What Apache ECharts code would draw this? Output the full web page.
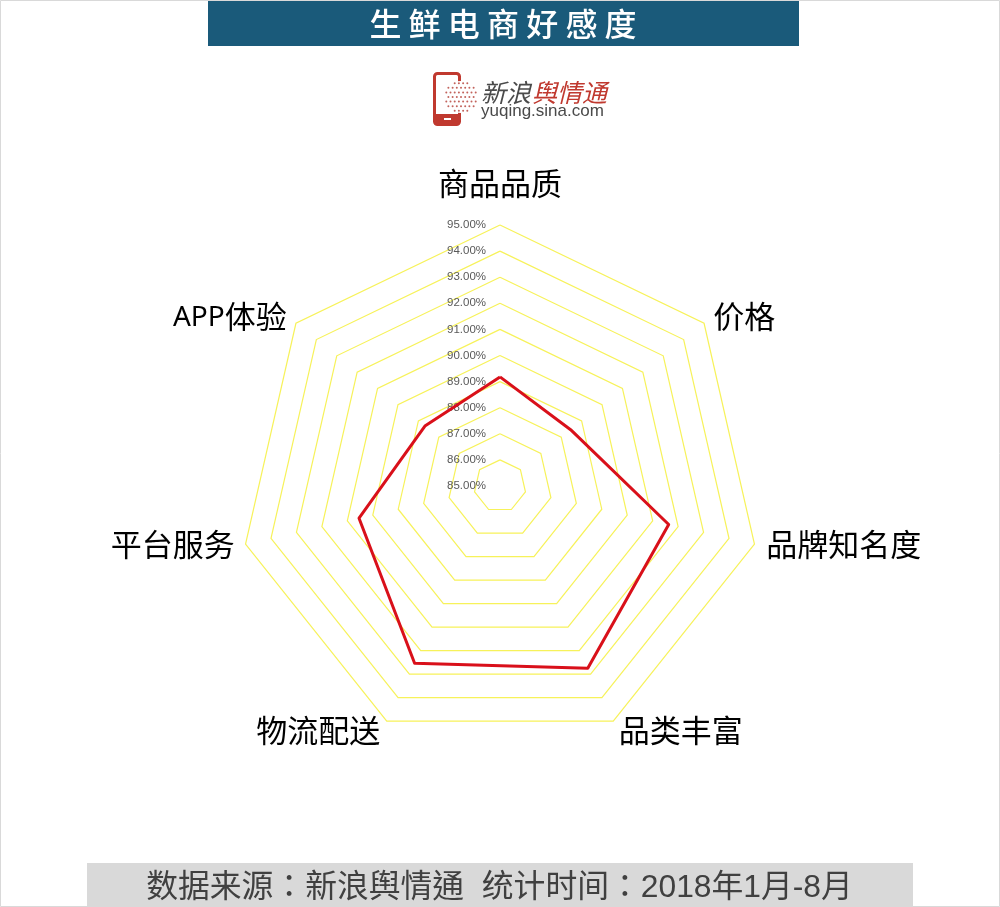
<!DOCTYPE html>
<html><head><meta charset="utf-8">
<style>html,body{margin:0;padding:0;background:#fff}#c{width:1000px;height:907px}</style>
<script src="https://cdn.jsdelivr.net/npm/echarts@6/dist/echarts.min.js"></script>
</head><body><div id="c"></div>
<script>
// Listed in the radar's drawing order (counter-clockwise from the top)
const categories = ['商品品质','APP体验','平台服务','物流配送','品类丰富','品牌知名度','价格'];
const values = [89.18,88.68,90.54,92.54,92.75,91.63,88.46];
const tickLabels = ['85.00%','86.00%','87.00%','88.00%','89.00%','90.00%','91.00%','92.00%','93.00%','94.00%','95.00%'];
const axisMin = 85, axisMax = 95;
const titleText = '生 鲜 电 商 好 感 度';
const sourceText = '数据来源：新浪舆情通  统计时间：2018年1月-8月';
const logoCn1 = '新浪', logoCn2 = '舆情通', logoEn = 'yuqing.sina.com';

const CJK = '"Noto Sans CJK SC","Noto Sans",sans-serif';
const CJKTC = '"Liberation Sans","Noto Sans CJK TC",sans-serif';
const graphic = [
  {type:'rect',shape:{x:0.5,y:0.5,width:999,height:906},style:{fill:'none',stroke:'#d9d9d9',lineWidth:1},silent:true},
  {type:'rect',shape:{x:208,y:1,width:591,height:45},style:{fill:'#1a5a7a'}},
  {type:'text',x:503,y:24,style:{text:titleText,fill:'#fff',font:'500 32px '+CJK,textAlign:'center',textVerticalAlign:'middle'}},
  {type:'rect',shape:{x:87,y:863,width:826,height:43},style:{fill:'#d9d9d9'}},
  {type:'text',x:499.5,y:888,style:{text:sourceText,fill:'#404040',font:'31.8px '+CJKTC,textAlign:'center',textVerticalAlign:'middle'}},
  {type:'rect',shape:{x:434.5,y:73.5,width:25,height:51,r:3},style:{fill:'#fff',stroke:'#c0392f',lineWidth:3}},
  {type:'rect',shape:{x:434,y:114,width:26,height:11,r:[0,0,3,3]},style:{fill:'#c0392f'}},
  {type:'rect',shape:{x:444,y:118,width:7,height:2},style:{fill:'#fff'}},
  {type:'circle',shape:{cx:461,cy:97,r:16},style:{fill:'#fff'},silent:true},
  {type:'text',x:481,y:92,style:{text:logoCn1,fill:'#4a4a4a',font:'italic 25px '+CJK,textVerticalAlign:'middle'}},
  {type:'text',x:532,y:92,style:{text:logoCn2,fill:'#c0392f',font:'italic 25px '+CJK,textVerticalAlign:'middle'}},
  {type:'text',x:481,y:111,style:{text:logoEn,fill:'#4a4a4a',font:'17px "Liberation Sans",sans-serif',textVerticalAlign:'middle'}}
];
// logo dot globe
for(let r=-3;r<=3;r++){
  for(let c=-4;c<=3;c++){
    const dx=c*4.2+(r%2?2.1:0), dy=r*4.6;
    if(dx*dx+dy*dy<=16*16) graphic.push({type:'circle',shape:{cx:461+dx,cy:97+dy,r:1},style:{fill:'#c2635c'},silent:true});
  }
}

// Label nudges: [top,right,bottom,left] per axis name, same order as categories
const namePads = [[0,0,18,0],[0,3,4,0],[0,3,4,0],[4,3,0,0],[4,0,0,2],[0,0,4,4],[0,0,4,3]];
const rich = {};
namePads.forEach(function(p,i){
  rich['n'+i] = {fontSize:31,fontFamily:CJK,color:'#000',padding:p};
});
rich.a1 = {fontSize:28,fontFamily:'"Noto Sans",sans-serif',color:'#000',padding:[0,0,0,0]};

const chart = echarts.init(document.getElementById('c'),null,{renderer:'canvas'});
chart.setOption({
  animation:false,
  backgroundColor:'#fff',
  graphic:graphic,
  radar:{
    center:[500,486],radius:261,startAngle:90,splitNumber:10,shape:'polygon',
    nameGap:8,
    axisName:{color:'#000',fontSize:31,fontFamily:CJK,
      formatter:function(n){
        const i=categories.indexOf(n);
        if(n.indexOf('APP')===0) return '{a1|APP}{n1|'+n.slice(3)+'}';
        return '{n'+i+'|'+n+'}';
      },
      rich:rich},
    axisLine:{show:false},axisTick:{show:false},
    splitLine:{lineStyle:{color:'#f7f25a',width:1.2}},
    splitArea:{show:false},
    indicator:categories.map(function(n,i){
      const o={name:n,min:axisMin,max:axisMax};
      if(i===0) o.axisLabel={show:true,color:'#595959',fontSize:11.5,fontFamily:'"Liberation Sans",sans-serif',margin:14,padding:[4,0,0,0],
        formatter:function(v){return tickLabels[Math.round(v-axisMin)];}};
      return o;
    })
  },
  series:[{type:'radar',symbol:'none',silent:true,
    lineStyle:{color:'#d9101a',width:3},
    areaStyle:{opacity:0},
    data:[{value:values}]}]
});
</script></body></html>
